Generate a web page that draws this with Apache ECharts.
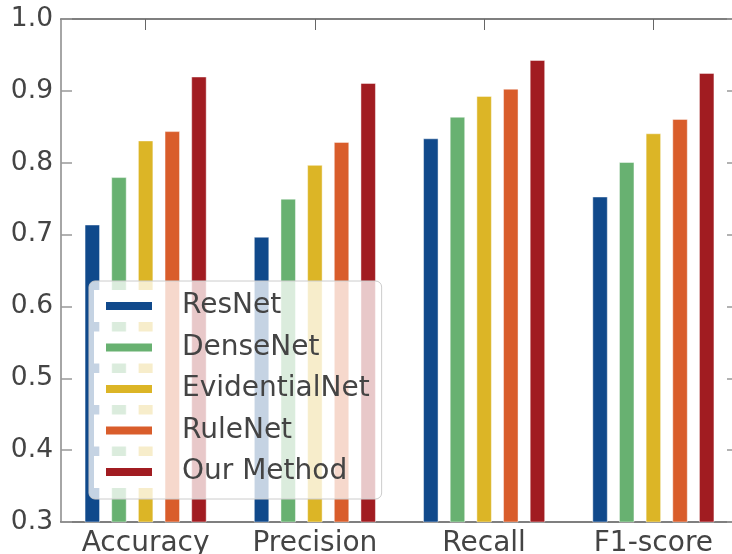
<!DOCTYPE html>
<html>
<head>
<meta charset="utf-8">
<script src="https://cdn.jsdelivr.net/npm/echarts@6/dist/echarts.min.js"></script>
<style>html,body{margin:0;padding:0;background:#fff;}#c{width:732px;height:554px;}</style>
</head>
<body>
<div id="c"></div>
<script>
const categories = ['Accuracy', 'Precision', 'Recall', 'F1-score'];
const seriesNames = ['ResNet', 'DenseNet', 'EvidentialNet', 'RuleNet', 'Our Method'];
const resnet = [0.714, 0.697, 0.834, 0.753];
const densenet = [0.780, 0.750, 0.864, 0.801];
const evidentialnet = [0.831, 0.797, 0.893, 0.841];
const rulenet = [0.844, 0.829, 0.903, 0.861];
const ourMethod = [0.920, 0.911, 0.943, 0.925];
const colors = ['#10498b', '#68b171', '#dcb526', '#d95d2b', '#a11c21'];
const yTicks = { min: 0.3, max: 1.0, interval: 0.1 };

const values = [resnet, densenet, evidentialnet, rulenet, ourMethod];
const font = 'DejaVu Sans';
const chart = echarts.init(document.getElementById('c'));
const legendCommon = {
  orient: 'vertical',
  top: 281,
  itemGap: 9.5,
  icon: 'rect',
  data: seriesNames,
  selectedMode: true
};
chart.setOption({
  animation: false,
  backgroundColor: '#fff',
  textStyle: { fontFamily: font },
  grid: { left: 61, top: 19, width: 677, height: 503, containLabel: false, outerBoundsMode: 'none' },
  legend: [
    Object.assign({}, legendCommon, {
      left: 89,
      padding: [9, 12, 11, 5],
      itemWidth: 70, itemHeight: 32,
      itemStyle: { color: '#ffffff', borderWidth: 0 },
      backgroundColor: 'rgba(255,255,255,0.76)',
      borderColor: '#cccccc', borderWidth: 1, borderRadius: 6,
      textStyle: { fontFamily: font, fontSize: 28, lineHeight: 32, color: 'rgba(0,0,0,0)', padding: [0, 0, 0, 13] },
      inactiveColor: 'rgba(0,0,0,0)'
    }),
    Object.assign({}, legendCommon, {
      left: 101,
      padding: [9, 12, 11, 5],
      itemWidth: 46, itemHeight: 8,
      itemStyle: { borderWidth: 0 },
      textStyle: { fontFamily: font, fontSize: 28, lineHeight: 32, color: '#444', padding: [0, 0, 0, 25] }
    })
  ],
  xAxis: [
    {
      type: 'category', data: categories, position: 'bottom',
      axisLine: { lineStyle: { color: '#555', width: 1.5 } },
      axisTick: { show: false },
      axisLabel: { fontFamily: font, fontSize: 28, color: '#444', margin: 8 }
    },
    {
      type: 'category', data: categories, position: 'top',
      axisLine: { lineStyle: { color: '#555', width: 1.5 } },
      axisTick: { show: true, inside: true, length: 11, alignWithLabel: true, lineStyle: { color: '#666', width: 1 } },
      axisLabel: { show: false }
    }
  ],
  yAxis: [
    {
      type: 'value', position: 'left', min: yTicks.min, max: yTicks.max, interval: yTicks.interval,
      axisLine: { show: true, lineStyle: { color: '#888', width: 1.5 } },
      axisTick: { show: true, inside: true, length: 11, lineStyle: { color: '#999', width: 1.5 } },
      splitLine: { show: false },
      axisLabel: { fontFamily: font, fontSize: 26.5, color: '#444', margin: 8, formatter: v => v.toFixed(1) }
    },
    {
      type: 'value', position: 'right', min: yTicks.min, max: yTicks.max, interval: yTicks.interval,
      axisLine: { show: true, lineStyle: { color: '#888', width: 1.5 } },
      axisTick: { show: true, inside: true, length: 11, lineStyle: { color: '#999', width: 1.5 } },
      splitLine: { show: false },
      axisLabel: { show: false }
    }
  ],
  series: seriesNames.map((n, i) => ({
    name: n, type: 'bar', data: values[i],
    barWidth: 15.5, barGap: '72%',
    itemStyle: { color: colors[i], borderColor: 'rgba(255,255,255,0.45)', borderWidth: 1 }
  }))
});
</script>
</body>
</html>
